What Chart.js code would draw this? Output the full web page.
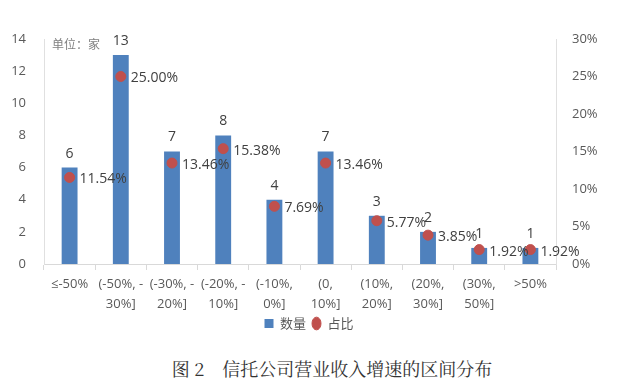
<!DOCTYPE html>
<html>
<head>
<meta charset="utf-8">
<script src="https://cdn.jsdelivr.net/npm/chart.js@4"></script>
<style>
  body { margin: 0; background: #fff; }
  #wrap { position: relative; width: 640px; height: 390px; }
  #chart { position: absolute; left: 0; top: 0; }
  #caption {
    position: absolute; left: 0; width: 664px; top: 355px; text-align: center;
    font-family: "Noto Serif CJK SC", "Noto Sans CJK SC", serif; font-size: 18px; color: #333;
  }
</style>
</head>
<body>
<div id="wrap">
  <canvas id="chart" width="640" height="340"></canvas>
  <div id="caption">图 2　信托公司营业收入增速的区间分布</div>
</div>
<script>
// 区间分布数据
const categories = [
  ['≤-50%'], ['(-50%, -', '30%]'], ['(-30%, -', '20%]'], ['(-20%, -', '10%]'],
  ['(-10%,', '0%]'], ['(0,', '10%]'], ['(10%,', '20%]'], ['(20%,', '30%]'],
  ['(30%,', '50%]'], ['>50%']
];
const counts = [6, 13, 7, 8, 4, 7, 3, 2, 1, 1];
const shares = [11.54, 25.00, 13.46, 15.38, 7.69, 13.46, 5.77, 3.85, 1.92, 1.92];
const leftTicks = [0, 2, 4, 6, 8, 10, 12, 14];
const rightTicks = [0, 5, 10, 15, 20, 25, 30];

const textColor = '#595959';
const numFont = "'Open Sans', 'Noto Sans CJK SC', sans-serif";
Chart.defaults.font.family = numFont;
Chart.defaults.color = textColor;

// draw value labels (no datalabels plugin available)
const valueLabels = {
  id: 'valueLabels',
  afterDatasetsDraw(chart) {
    const ctx = chart.ctx;
    ctx.save();
    ctx.fillStyle = '#404040';
    ctx.font = "14px 'Open Sans', sans-serif";
    ctx.textAlign = 'center';
    ctx.textBaseline = 'bottom';
    chart.getDatasetMeta(0).data.forEach((bar, i) => {
      ctx.fillText(counts[i], bar.x, bar.y - 7);
    });
    ctx.textAlign = 'left';
    ctx.textBaseline = 'middle';
    chart.getDatasetMeta(1).data.forEach((pt, i) => {
      ctx.fillText(shares[i].toFixed(2) + '%', pt.x + 10, pt.y + 2);
    });
    // unit note
    ctx.fillStyle = '#7f7f7f';
    ctx.font = "12px 'Noto Sans CJK SC', sans-serif";
    ctx.textBaseline = 'middle';
    ctx.fillText('单位：家', chart.chartArea.left + 8, chart.chartArea.top + 5);
    ctx.restore();
  }
};

new Chart(document.getElementById('chart').getContext('2d'), {
  data: {
    labels: categories,
    datasets: [{
      type: 'bar',
      label: '数量',
      data: counts,
      backgroundColor: '#4F81BD',
      barPercentage: 0.62,
      categoryPercentage: 0.5,
      yAxisID: 'y',
      pointStyle: 'rect',
      order: 2
    }, {
      type: 'line',
      label: '占比',
      data: shares,
      showLine: false,
      pointRadius: 5,
      pointBackgroundColor: '#C0504D',
      pointBorderColor: '#C0504D',
      backgroundColor: '#C0504D',
      borderColor: '#C0504D',
      pointStyle: 'circle',
      yAxisID: 'y1',
      order: 1
    }]
  },
  options: {
    responsive: false,
    animation: false,
    layout: { padding: { top: 39, right: 22, left: 0, bottom: 0 } },
    plugins: {
      legend: {
        position: 'bottom',
        labels: {
          usePointStyle: true,
          pointStyleWidth: 9,
          boxHeight: 9,
          padding: 6,
          font: { size: 13, family: "'Noto Sans CJK SC', sans-serif" },
          color: textColor,
          sort: (a, b) => a.datasetIndex - b.datasetIndex
        }
      },
      tooltip: { enabled: false }
    },
    scales: {
      x: {
        afterFit: axis => { axis.height -= 8; },
        grid: { display: true, drawOnChartArea: false, tickLength: 6, color: '#d9d9d9', offset: true },
        border: { color: '#d9d9d9' },
        ticks: { font: { size: 13, lineHeight: 1.5 }, color: textColor, maxRotation: 0, autoSkip: false, padding: 5 }
      },
      y: {
        position: 'left',
        min: 0, max: 14,
        afterBuildTicks: axis => { axis.ticks = leftTicks.map(v => ({ value: v })); },
        afterFit: axis => { axis.width = 44; },
        grid: { display: false },
        border: { color: '#e0e0e0' },
        ticks: { font: { size: 13 }, color: textColor, padding: 10 }
      },
      y1: {
        position: 'right',
        min: 0, max: 30,
        afterBuildTicks: axis => { axis.ticks = rightTicks.map(v => ({ value: v })); },
        afterFit: axis => { axis.width = 62; },
        grid: { display: false },
        border: { color: '#e0e0e0' },
        ticks: { font: { size: 13 }, color: textColor, padding: 8, callback: v => v + '%' }
      }
    }
  },
  plugins: [valueLabels]
});
</script>
</body>
</html>
